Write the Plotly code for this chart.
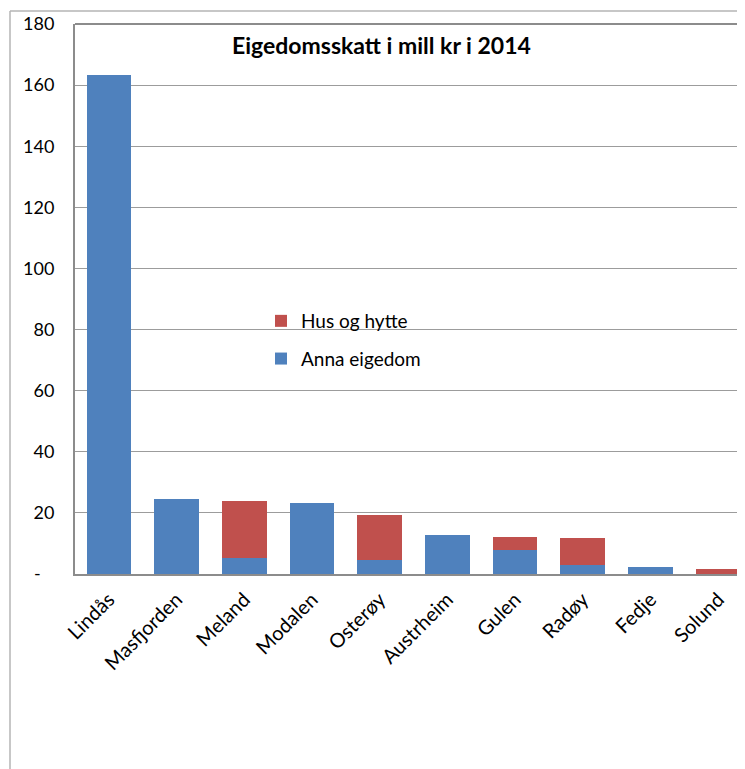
import plotly.graph_objects as go

categories = ["Lindås", "Masfjorden", "Meland", "Modalen", "Osterøy",
              "Austrheim", "Gulen", "Radøy", "Fedje", "Solund"]
anna_eigedom = [163.3, 24.5, 5.4, 23.3, 4.5, 12.7, 8.0, 3.1, 2.2, 0.0]
hus_og_hytte = [0.0, 0.0, 18.4, 0.0, 14.8, 0.0, 4.1, 8.6, 0.0, 1.5]
ytick_vals = [0, 20, 40, 60, 80, 100, 120, 140, 160, 180]
ytick_text = ["-\u00a0\u00a0\u00a0", "20", "40", "60", "80", "100", "120", "140", "160", "180"]
title_text = "Eigedomsskatt i mill kr i 2014"

FONT = "Lato"
OFF = 8  # page body margin
W, H = 745 - OFF, 769 - OFF
L, T, B = 75 - OFF, 24 - OFF, 574 - OFF  # plot area pixels in figure coords
R = W

fig = go.Figure()
fig.add_trace(go.Bar(x=categories, y=anna_eigedom, name="Anna eigedom",
                     marker=dict(color="#4F81BD", line=dict(width=0)),
                     legendgroup="a", legendrank=2))
fig.add_trace(go.Bar(x=categories, y=hus_og_hytte, name="Hus og hytte",
                     marker=dict(color="#C0504D", line=dict(width=0)),
                     legendgroup="b", legendrank=1))

pw = R - L
ph = B - T
def px(x):
    return (x - OFF - L) / pw
def py(y):
    return (B - (y - OFF)) / ph

shapes = [
    dict(type="line", xref="paper", yref="paper", x0=0, x1=1.01, y0=1, y1=1,
         line=dict(color="#8c8c8c", width=2)),
    dict(type="line", xref="paper", yref="paper", x0=px(10), x1=1.01, y0=py(11), y1=py(11),
         line=dict(color="#b4b4b4", width=1.5)),
    dict(type="line", xref="paper", yref="paper", x0=px(10), x1=px(10), y0=py(11), y1=py(775),
         line=dict(color="#b4b4b4", width=1.5)),
]

fig.update_layout(
    width=W, height=H,
    margin=dict(l=L, r=W - R, t=T, b=H - B, pad=0),
    paper_bgcolor="white", plot_bgcolor="white",
    barmode="stack", bargap=0.34,
    font=dict(family=FONT, size=18, color="black"),
    showlegend=True,
    legend=dict(x=px(261), y=py(302), xanchor="left", yanchor="top",
                traceorder="grouped", tracegroupgap=10,
                bgcolor="rgba(0,0,0,0)", font=dict(family=FONT, size=19)),
    annotations=[dict(text="<b>" + title_text + "</b>", xref="paper", yref="paper",
                      x=px(381), y=py(45), xanchor="center", yanchor="middle",
                      showarrow=False, font=dict(family=FONT, size=23, color="black"))],
    shapes=shapes,
    xaxis=dict(range=[-0.5, 9.395], showline=True, linecolor="#8c8c8c", linewidth=2,
               tickangle=-45, ticks="", showgrid=False, zeroline=False,
               ticklabelstandoff=4,
               tickfont=dict(family=FONT, size=20)),
    yaxis=dict(range=[0, 180], tickvals=ytick_vals, ticktext=ytick_text,
               showline=True, linecolor="#8c8c8c", linewidth=2,
               showgrid=True, gridcolor="#9c9c9c", gridwidth=1, zeroline=False,
               ticks="", ticklabelstandoff=15,
               tickfont=dict(family=FONT, size=18)),
)

fig.write_html("out.html")
